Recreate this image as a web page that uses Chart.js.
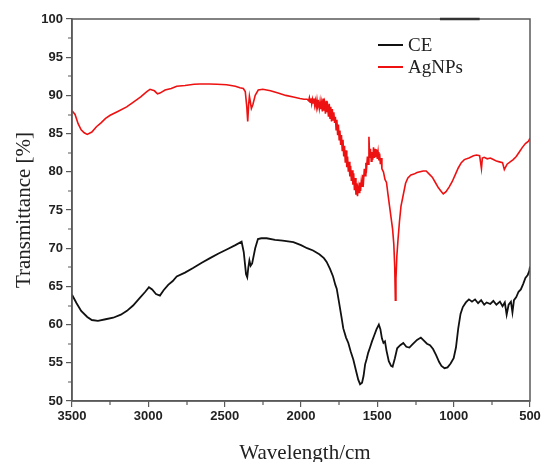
<!DOCTYPE html>
<html>
<head>
<meta charset="utf-8">
<script src="https://cdn.jsdelivr.net/npm/chart.js@4"></script>
<style>
  body { margin: 0; background: #fff; }
  canvas { display: block; }
</style>
</head>
<body>
<canvas id="ftirChart" width="543" height="462"></canvas>
<script>
// tick positions
const xTicks = [3500, 3000, 2500, 2000, 1500, 1000, 500];
const yTicks = [50, 55, 60, 65, 70, 75, 80, 85, 90, 95, 100];

// CE spectrum (wavenumber, transmittance)
const ceWave = [3500, 3470, 3440, 3400, 3370, 3330, 3280, 3230, 3180, 3140, 3100, 3060, 3020, 2996, 2975, 2950, 2924, 2900, 2870, 2840, 2814, 2760, 2707, 2650, 2596, 2540, 2480, 2430, 2389, 2375, 2360, 2352, 2345, 2338, 2330, 2320, 2300, 2282, 2260, 2225, 2170, 2120, 2050, 2000, 1960, 1921, 1880, 1850, 1832, 1810, 1790, 1775, 1766, 1750, 1735, 1723, 1705, 1690, 1675, 1657, 1640, 1625, 1613, 1600, 1590, 1580, 1570, 1560, 1548, 1535, 1520, 1505, 1490, 1480, 1470, 1460, 1450, 1440, 1425, 1410, 1400, 1385, 1370, 1350, 1330, 1310, 1290, 1270, 1240, 1215, 1195, 1175, 1155, 1135, 1115, 1095, 1080, 1060, 1040, 1020, 1000, 985, 970, 955, 940, 920, 900, 880, 860, 840, 820, 800, 784, 760, 740, 720, 697, 680, 665, 653, 640, 625, 615, 605, 590, 575, 560, 545, 530, 515, 505, 500];
const ceT = [63.9, 62.8, 61.8, 61.0, 60.6, 60.5, 60.7, 60.9, 61.3, 61.8, 62.5, 63.4, 64.3, 64.9, 64.6, 64.0, 63.8, 64.5, 65.2, 65.7, 66.3, 66.8, 67.4, 68.1, 68.7, 69.3, 69.9, 70.4, 70.85, 69.5, 66.6, 66.2, 67.5, 68.4, 67.7, 68.0, 70.0, 71.2, 71.3, 71.3, 71.1, 71.0, 70.8, 70.4, 70.0, 69.7, 69.2, 68.7, 68.2, 67.3, 66.3, 65.2, 64.7, 62.8, 61.0, 59.5, 58.3, 57.6, 56.5, 55.4, 54.0, 52.8, 52.2, 52.4, 53.3, 54.8, 55.5, 56.3, 57.0, 57.8, 58.6, 59.4, 60.0, 59.4, 58.2, 57.6, 57.8, 56.6, 55.2, 54.6, 54.5, 55.6, 56.9, 57.3, 57.6, 57.1, 57.0, 57.4, 58.0, 58.3, 57.9, 57.5, 57.3, 56.8, 56.0, 55.1, 54.6, 54.3, 54.4, 54.9, 55.6, 57.0, 59.5, 61.4, 62.3, 62.9, 63.3, 63.0, 63.3, 62.8, 63.2, 62.6, 62.9, 62.7, 63.1, 62.6, 63.0, 62.4, 62.9, 61.3, 62.6, 63.0, 61.6, 63.2, 63.6, 64.3, 64.6, 65.3, 66.1, 66.5, 67.0, 67.6];

// AgNPs spectrum (wavenumber, transmittance)
const agWave = [3500, 3480, 3460, 3440, 3420, 3400, 3370, 3340, 3310, 3280, 3250, 3200, 3142, 3100, 3050, 3010, 2989, 2960, 2940, 2924, 2890, 2850, 2814, 2760, 2700, 2662, 2600, 2550, 2487, 2430, 2400, 2378, 2365, 2355, 2349, 2343, 2338, 2333, 2325, 2315, 2300, 2280, 2250, 2200, 2150, 2100, 2050, 2007, 1980, 1960,
  1950, 1945, 1940, 1935, 1930, 1925, 1920, 1915, 1910, 1905, 1900, 1895, 1890, 1885, 1880, 1875, 1870, 1865, 1860, 1855, 1850, 1845, 1840, 1835, 1830, 1825, 1820, 1815, 1810, 1805, 1800, 1795, 1790, 1785, 1780, 1775, 1770, 1765, 1760, 1755, 1750, 1745, 1740, 1735, 1730, 1725, 1720, 1715, 1710, 1705, 1700, 1695, 1690, 1685, 1680, 1675, 1670, 1665, 1660, 1655, 1650, 1645, 1640, 1635, 1630, 1625, 1620, 1615, 1610, 1605, 1600, 1595, 1590, 1585, 1580, 1575, 1570, 1565, 1560, 1555, 1550, 1545, 1540, 1535, 1530, 1525, 1520, 1515, 1510, 1505, 1500, 1495, 1490, 1485, 1480, 1475, 1470,
  1460, 1450, 1440, 1430, 1420, 1410, 1400, 1392, 1386, 1382, 1378, 1372, 1365, 1355, 1345, 1330, 1315, 1300, 1280, 1260, 1240, 1220, 1200, 1180, 1160, 1140, 1120, 1100, 1080, 1068, 1050, 1030, 1010, 990, 970, 950, 930, 900, 870, 850, 830, 818, 812, 800, 780, 760, 740, 720, 700, 680, 668, 660, 650, 630, 610, 590, 570, 550, 530, 510, 500];
const agT = [88.0, 87.5, 86.3, 85.5, 85.1, 84.9, 85.2, 85.9, 86.4, 87.0, 87.4, 87.9, 88.5, 89.1, 89.8, 90.5, 90.8, 90.6, 90.2, 90.3, 90.7, 90.9, 91.2, 91.3, 91.45, 91.5, 91.5, 91.45, 91.4, 91.2, 91.0, 90.9, 90.5, 88.5, 86.6, 88.8, 89.9, 89.3, 88.3, 88.8, 90.0, 90.7, 90.8, 90.6, 90.3, 90.0, 89.8, 89.6, 89.5, 89.5,
  89.3, 89.7, 89.1, 89.6, 88.9, 89.5, 89.0, 89.6, 88.7, 89.3, 88.5, 89.4, 88.6, 89.0, 88.3, 89.2, 88.2, 89.0, 87.9, 89.6, 88.0, 88.8, 87.6, 89.3, 87.8, 88.4, 87.2, 88.9, 87.0, 88.5, 86.6, 88.2, 86.8, 87.8, 86.4, 87.2, 85.5, 86.8, 84.8, 86.2, 84.2, 85.4, 83.5, 84.8, 82.8, 84.2, 82.0, 83.4, 81.2, 82.8, 80.6, 82.0, 80.0, 81.3, 79.4, 80.8, 78.8, 80.2, 78.3, 79.8, 77.6, 79.2, 77.0, 78.5, 76.8, 78.0, 77.3, 78.6, 77.5, 78.8, 78.1, 79.6, 78.9, 80.4, 79.5, 81.2, 80.6, 82.0, 81.0, 84.6, 81.8, 83.0, 81.4, 82.6, 81.6, 83.2, 81.8, 83.0, 81.9, 82.9, 81.7, 82.6, 81.5, 82.4, 81.0, 81.8, 80.4,
  80.0, 79.0, 78.6, 77.0, 75.5, 74.0, 72.5, 70.5, 67.5, 63.2, 66.0, 69.0, 71.0, 73.5, 75.5, 77.0, 78.5, 79.2, 79.6, 79.7, 79.9, 80.0, 80.1, 80.1, 79.7, 79.3, 78.6, 77.9, 77.4, 77.1, 77.4, 78.0, 78.7, 79.6, 80.5, 81.2, 81.6, 81.8, 82.1, 82.2, 82.1, 80.4, 81.8, 81.9, 81.7, 81.8, 81.6, 81.4, 81.3, 81.2, 80.3, 80.6, 81.0, 81.3, 81.6, 82.0, 82.6, 83.2, 83.7, 84.0, 84.4];

const seriesNames = ['CE', 'AgNPs'];
const xTitle = 'Wavelength/cm';
const yTitle = 'Transmittance [%]';

const toPoints = (xs, ys) => xs.map((x, i) => ({ x: x, y: ys[i] }));

const frameColor = '#5a5a5a';
const tickFont = { family: 'Liberation Sans', size: 13, weight: 'bold' };

// frame, minor ticks, axis titles and legend
const decorations = {
    id: 'decorations',
    afterDraw(chart) {
        const c = chart.ctx;
        const a = chart.chartArea;
        const xs = chart.scales.x;
        const ys = chart.scales.y;
        c.save();
        c.strokeStyle = frameColor;
        c.lineWidth = 1.5;
        c.strokeRect(a.left, a.top, a.right - a.left, a.bottom - a.top);

        // darker stub on the top border
        c.strokeStyle = '#333';
        c.lineWidth = 2.5;
        c.beginPath();
        c.moveTo(xs.getPixelForValue(1090), a.top);
        c.lineTo(xs.getPixelForValue(830), a.top);
        c.stroke();

        // minor ticks
        c.strokeStyle = frameColor;
        c.lineWidth = 1.2;
        c.beginPath();
        for (let i = 0; i < xTicks.length - 1; i++) {
            const px = Math.round(xs.getPixelForValue((xTicks[i] + xTicks[i + 1]) / 2));
            c.moveTo(px, a.bottom);
            c.lineTo(px, a.bottom + 4);
        }
        for (let i = 0; i < yTicks.length - 1; i++) {
            const py = Math.round(ys.getPixelForValue((yTicks[i] + yTicks[i + 1]) / 2));
            c.moveTo(a.left, py);
            c.lineTo(a.left - 4, py);
        }
        c.stroke();

        // axis titles
        c.fillStyle = '#222';
        c.font = '21px "Liberation Serif"';
        c.textAlign = 'center';
        c.textBaseline = 'middle';
        c.fillText(xTitle, (a.left + a.right) / 2 + 4, 453);
        c.translate(24, 210);
        c.rotate(-Math.PI / 2);
        c.fillText(yTitle, 0, 0);
        c.restore();

        // legend
        c.save();
        c.font = '19px "Liberation Serif"';
        c.textAlign = 'left';
        c.textBaseline = 'middle';
        chart.data.datasets.forEach((ds, i) => {
            const ly = 45 + i * 22;
            c.strokeStyle = ds.borderColor;
            c.lineWidth = 2;
            c.beginPath();
            c.moveTo(378, ly);
            c.lineTo(403, ly);
            c.stroke();
            c.fillStyle = '#222';
            c.fillText(ds.label, 408, ly + 1);
        });
        c.restore();
    }
};

const ctx = document.getElementById('ftirChart').getContext('2d');
new Chart(ctx, {
    type: 'line',
    data: {
        datasets: [{
            label: seriesNames[0],
            data: toPoints(ceWave, ceT),
            borderColor: '#111111',
            borderWidth: 1.8,
            pointRadius: 0,
            tension: 0
        }, {
            label: seriesNames[1],
            data: toPoints(agWave, agT),
            borderColor: '#ee1111',
            borderWidth: 1.6,
            pointRadius: 0,
            tension: 0
        }]
    },
    options: {
        responsive: false,
        animation: false,
        devicePixelRatio: 1,
        layout: { padding: { top: 19, right: 13, left: 0, bottom: 0 } },
        plugins: {
            legend: { display: false },
            tooltip: { enabled: false }
        },
        scales: {
            x: {
                type: 'linear',
                reverse: true,
                min: 500,
                max: 3500,
                afterBuildTicks: s => { s.ticks = xTicks.map(v => ({ value: v })); },
                afterFit: s => { s.height = 61; },
                ticks: { color: '#222', font: tickFont, padding: 2, maxRotation: 0, callback: v => String(v) },
                grid: { drawOnChartArea: false, tickLength: 6, color: frameColor, lineWidth: 1.2 },
                border: { color: frameColor, width: 1.5 }
            },
            y: {
                min: 50,
                max: 100,
                afterBuildTicks: s => { s.ticks = yTicks.map(v => ({ value: v })); },
                afterFit: s => { s.width = 72; },
                ticks: { color: '#222', font: tickFont, padding: 3, callback: v => String(v) },
                grid: { drawOnChartArea: false, tickLength: 6, color: frameColor, lineWidth: 1.2 },
                border: { color: frameColor, width: 1.5 }
            }
        }
    },
    plugins: [decorations]
});
</script>
</body>
</html>
